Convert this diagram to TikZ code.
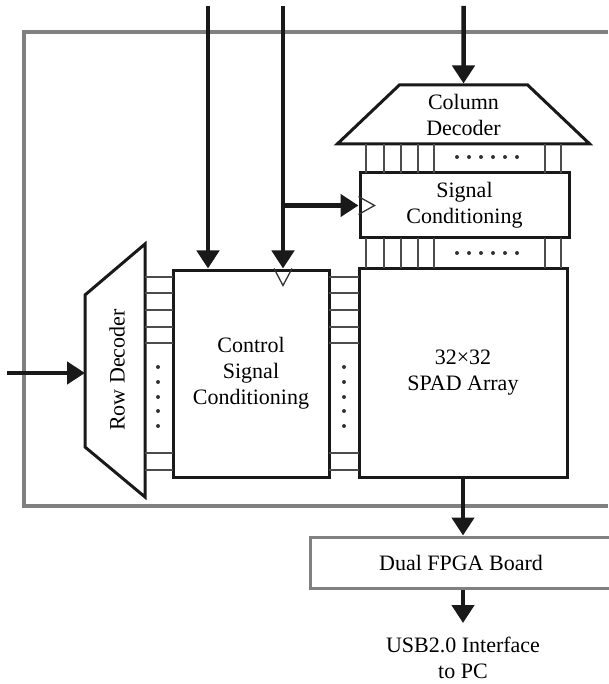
\documentclass[tikz,border=0pt]{standalone}
\usepackage{fontspec}
\setmainfont{Liberation Serif}
\usetikzlibrary{shapes.geometric,arrows.meta}

\begin{document}
\begin{tikzpicture}[x=1pt,y=-1pt,
	every node/.style={font=\fontsize{22}{26}\selectfont},
	box/.style={draw=black!90,line width=3pt,inner sep=0pt,align=center},
	arr/.style={black!90,line width=4.5pt,-{Triangle[length=18pt,width=22pt]}},
	bus/.style={black!70,line width=1.4pt},
	frm/.style={black!50,line width=3.5pt}]
	\useasboundingbox (0,0) rectangle (608,684);
	% chip outline
	\draw[frm] (608,32) -- (24,32) -- (24,506) -- (608,506);
	% blocks
	\node[box,minimum width=156pt,minimum height=207pt] (ctrl) at (251,373.5) {Control\\Signal\\Conditioning};
	\node[box,minimum width=208pt,minimum height=209pt] (spad) at (463,372.5) {32×32\\SPAD Array};
	\node[box,minimum width=209pt,minimum height=65pt] (sig) at (464.5,205.5) {Signal\\Conditioning};
	\node[box,trapezium,trapezium left angle=49,trapezium right angle=49,trapezium stretches=true,
		minimum width=253pt,minimum height=59pt] (coldec) at (463.5,114.5) {Column\\Decoder};
	\draw[black!90,line width=3pt] (145,244) -- (85,295) -- (85,447) -- (145,497) -- cycle;
	\node[rotate=90] (rowdec) at (117,370) {Row Decoder};
	\node[box,draw=black!50,minimum width=302pt,minimum height=51pt] (fpga) at (461,562.5) {Dual FPGA Board};
	\node[align=center,anchor=north,inner sep=0pt,inner ysep=14pt] (usb) at (463,623) {USB2.0 Interface\\to PC};
	% column buses
	\foreach \x in {366,384,401,418,434,545,561} {
		\draw[bus] (\x,144) -- (\x,173);
		\draw[bus] (\x,238) -- (\x,268);
	}
	\foreach \x in {457,469,481,493,505,517} {
		\fill[black!80] (\x,157) circle (2pt);
		\fill[black!80] (\x,253) circle (2pt);
	}
	% row buses
	\foreach \y in {277,293,310,327,343,453,470} {
		\draw[bus] (145,\y) -- (173,\y);
		\draw[bus] (329,\y) -- (359,\y);
	}
	\foreach \y in {367,382,397,411,426} {
		\fill[black!80] (158,\y) circle (2pt);
		\fill[black!80] (344,\y) circle (2pt);
	}
	% inputs
	\coordinate (inA) at (208,6);
	\coordinate (inB) at (283,6);
	\coordinate (inC) at (463.5,6);
	\coordinate (rdin) at (7,373);
	\coordinate (rdl) at (85,373);
	\draw[arr] (inA) -- (inA |- ctrl.north);
	\draw[arr] (inB) -- (inB |- ctrl.north);
	\draw[arr] (inB |- sig.west) -- (sig.west);
	\draw[arr] (inC) -- (coldec.north);
	\draw[arr] (rdin) -- (rdl);
	% clock marks
	\draw[black!80,line width=1.3pt] ([yshift=9pt]sig.west) -- ([xshift=16pt]sig.west) -- ([yshift=-9pt]sig.west);
	\draw[black!80,line width=1.3pt] ([xshift=-9pt]inB |- ctrl.north) -- ([yshift=-17pt]inB |- ctrl.north) -- ([xshift=9pt]inB |- ctrl.north);
	% outputs
	\draw[arr] (spad.south) -- (spad.south |- fpga.north);
	\draw[arr] (spad.south |- fpga.south) -- (usb.north);
\end{tikzpicture}
\end{document}
